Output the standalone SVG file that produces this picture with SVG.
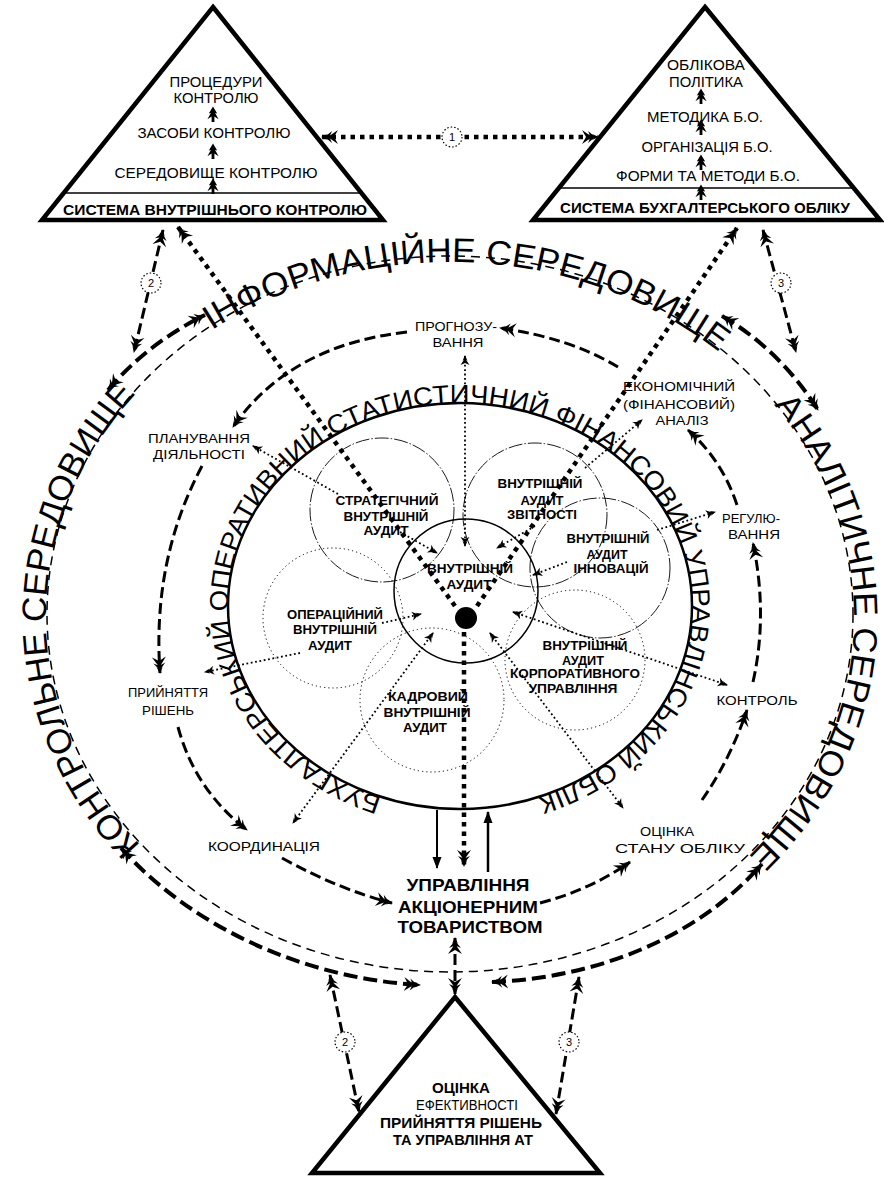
<svg xmlns="http://www.w3.org/2000/svg" width="884" height="1180" viewBox="0 0 884 1180">
<style>
text{font-family:"Liberation Sans",Arial,sans-serif;fill:#000}
.lb{font-size:13px;text-anchor:middle}
.sb{font-size:12.5px;font-weight:bold;text-anchor:middle}
.tr{font-size:15px;text-anchor:middle}
.trb{font-size:15px;font-weight:bold;text-anchor:middle}
.ring{font-size:34px}
.iring{font-size:26px}
.num{font-size:11px;text-anchor:middle}
.tri{fill:#fff;stroke:#000;stroke-width:4.5;stroke-linejoin:miter}
.thin-dash{fill:none;stroke:#000;stroke-width:1.5;stroke-dasharray:9 6}
.thick-dash{fill:none;stroke:#000;stroke-width:4;stroke-dasharray:14 6}
.mid-dash{fill:none;stroke:#000;stroke-width:3;stroke-dasharray:11 5}
.thick-dot{fill:none;stroke:#000;stroke-width:4.5;stroke-dasharray:4.5 5}
.thin-dot{fill:none;stroke:#000;stroke-width:1.8;stroke-dasharray:1.8 2.6}
.solid{fill:none;stroke:#000}
.c-dd{fill:none;stroke:#000;stroke-width:0.9;stroke-dasharray:14 2 1.5 2}
.c-dot{fill:none;stroke:#000;stroke-width:1;stroke-dasharray:1.2 3}
.ncirc{fill:#fff;stroke:#000;stroke-width:1.2;stroke-dasharray:1.5 2}
</style>
<defs>
<marker id="fa" viewBox="-17 -8 18 16" refX="0" refY="0" markerWidth="18" markerHeight="16" markerUnits="userSpaceOnUse" orient="auto-start-reverse"><path d="M1,0 L-6,-3 L-4,-1 L-10,-6 L-8,-1.5 L-16,-7 L-12,0 L-16,7 L-8,1.5 L-10,6 L-4,1 L-6,3 Z" fill="#000" stroke="none"/></marker>
<marker id="sa" viewBox="-10 -5 11 10" refX="0" refY="0" markerWidth="11" markerHeight="10" markerUnits="userSpaceOnUse" orient="auto-start-reverse"><path d="M1,0 L-5,-2.5 L-3.5,-0.8 L-9,-4.5 L-7,0 L-9,4.5 L-3.5,0.8 L-5,2.5 Z" fill="#000" stroke="none"/></marker>
<marker id="ta" viewBox="-12 -5 13 10" refX="0" refY="0" markerWidth="13" markerHeight="10" markerUnits="userSpaceOnUse" orient="auto"><path d="M1,0 L-11,-4.5 L-11,4.5 Z" fill="#000" stroke="none"/></marker>
<path id="oring" d="M 450 972 A 404 355 0 0 1 46 617 A 404 355 0 0 1 450 262 A 404 355 0 0 1 854 617 A 404 355 0 0 1 450 972"/>
<path id="iring" d="M 460 809 A 232 203 0 0 1 228 606 A 232 203 0 0 1 460 403 A 232 203 0 0 1 692 606 A 232 203 0 0 1 460 809"/>
<path id="up" d="M0,-6 L-3,-1 L-1.5,-1.5 L-4,3 L-1,1 L-1,5 L1,5 L1,1 L4,3 L1.5,-1.5 L3,-1 Z"/>
</defs>

<g id="rings">
<ellipse class="thin-dash" cx="450" cy="614" rx="403" ry="358"/>
<ellipse class="solid" stroke-width="2.5" cx="460" cy="606" rx="232" ry="203"/>
<circle class="solid" stroke-width="1.5" cx="466" cy="591" r="72"/>
<circle class="c-dd" cx="382" cy="510" r="72"/>
<circle class="c-dd" cx="535" cy="515" r="72"/>
<circle class="c-dd" cx="600" cy="568" r="70"/>
<circle class="c-dot" cx="575" cy="660" r="70"/>
<circle class="c-dot" cx="432" cy="700" r="72"/>
<circle class="c-dot" cx="333" cy="618" r="70"/>
<circle cx="466" cy="618" r="11" fill="#000"/>
</g>

<g id="ring-text">
<text class="ring" text-anchor="middle"><textPath href="#oring" startOffset="593" textLength="500" lengthAdjust="spacingAndGlyphs">КОНТРОЛЬНЕ СЕРЕДОВИЩЕ</textPath></text>
<text class="ring" text-anchor="middle"><textPath href="#oring" startOffset="1212" textLength="540" lengthAdjust="spacingAndGlyphs">ІНФОРМАЦІЙНЕ СЕРЕДОВИЩЕ</textPath></text>
<text class="ring" text-anchor="middle"><textPath href="#oring" startOffset="1808" textLength="500" lengthAdjust="spacingAndGlyphs">АНАЛІТИЧНЕ СЕРЕДОВИЩЕ</textPath></text>
<text class="iring" text-anchor="middle"><textPath href="#iring" startOffset="684" textLength="1210" lengthAdjust="spacingAndGlyphs">БУХГАЛТЕРСЬКИЙ ОПЕРАТИВНИЙ СТАТИСТИЧНИЙ ФІНАНСОВИЙ УПРАВЛІНСЬКИЙ ОБЛІК</textPath></text>
</g>

<g id="connectors">
<path class="thick-dash" d="M 108 390 Q 148 343 205 315" marker-start="url(#fa)" marker-end="url(#fa)"/>
<path class="thick-dash" d="M 722 316 Q 780 350 818 410" marker-start="url(#fa)" marker-end="url(#fa)"/>
<path class="thick-dash" d="M 121 848 C 190 925 300 978 420 985" marker-start="url(#fa)" marker-end="url(#fa)"/>
<path class="thick-dash" d="M 492 982 C 600 978 700 935 762 864" marker-start="url(#fa)" marker-end="url(#fa)"/>
<path class="thick-dot" d="M 322 137 L 598 137" marker-start="url(#fa)" marker-end="url(#fa)"/>
<path class="mid-dash" d="M 163 230 L 134 352" marker-start="url(#fa)" marker-end="url(#fa)"/>
<path class="mid-dash" d="M 763 230 L 796 352" marker-start="url(#fa)" marker-end="url(#fa)"/>
<path class="mid-dash" d="M 330 975 L 359 1112" marker-start="url(#fa)" marker-end="url(#fa)"/>
<path class="mid-dash" d="M 579 977 L 556 1114" marker-start="url(#fa)" marker-end="url(#fa)"/>
<path class="mid-dash" d="M 455 938 L 455 994" marker-start="url(#fa)" marker-end="url(#fa)"/>
<path class="mid-dash" d="M 407 332 Q 290 345 233 427" marker-end="url(#fa)"/>
<path class="mid-dash" d="M 202 466 Q 152 560 160 673" marker-end="url(#fa)"/>
<path class="mid-dash" d="M 178 727 Q 195 790 247 830" marker-end="url(#fa)"/>
<path class="mid-dash" d="M 282 858 Q 340 890 392 903" marker-end="url(#fa)"/>
<path class="mid-dash" d="M 540 903 Q 590 890 630 862" marker-end="url(#fa)"/>
<path class="mid-dash" d="M 702 800 Q 730 760 747 710" marker-end="url(#fa)"/>
<path class="mid-dash" d="M 753 682 Q 768 615 753 543" marker-end="url(#fa)"/>
<path class="mid-dash" d="M 737 505 Q 722 460 688 430" marker-end="url(#fa)"/>
<path class="mid-dash" d="M 618 367 Q 570 338 500 328" marker-end="url(#fa)"/>
<path class="thick-dot" d="M 455 606 L 178 227" marker-end="url(#fa)"/>
<path class="thick-dot" d="M 477 606 L 737 228" marker-end="url(#fa)"/>
<path class="thick-dot" d="M 464 632 L 464 866" marker-end="url(#fa)"/>
<path class="solid" stroke-width="2" d="M 437 810 L 437 868" marker-end="url(#ta)"/>
<path class="solid" stroke-width="2.5" d="M 488 872 L 488 812" marker-end="url(#ta)"/>
<path class="thin-dot" d="M 465 356 L 465 546" marker-start="url(#sa)" marker-end="url(#sa)"/>
<path class="thin-dot" d="M 338 494 L 253 446" marker-end="url(#sa)"/>
<path class="thin-dot" d="M 400 532 L 437 553" marker-end="url(#sa)"/>
<path class="thin-dot" d="M 300 653 L 205 672" marker-end="url(#sa)"/>
<path class="thin-dot" d="M 382 623 L 421 614" marker-end="url(#sa)"/>
<path class="thin-dot" d="M 433 633 L 293 823" marker-start="url(#sa)" marker-end="url(#sa)"/>
<path class="thin-dot" d="M 490 633 L 623 808" marker-start="url(#sa)" marker-end="url(#sa)"/>
<path class="thin-dot" d="M 513 612 L 727 685" marker-start="url(#sa)" marker-end="url(#sa)"/>
<path class="thin-dot" d="M 567 562 L 533 575" marker-end="url(#sa)"/>
<path class="thin-dot" d="M 657 530 L 715 512" marker-end="url(#sa)"/>
<path class="thin-dot" d="M 535 526 L 497 548" marker-end="url(#sa)"/>
<path class="thin-dot" d="M 585 468 L 642 420" marker-end="url(#sa)"/>
</g>

<g id="num-circles">
<circle class="ncirc" cx="452" cy="137" r="10"/><text class="num" x="452" y="141">1</text>
<circle class="ncirc" cx="151" cy="283" r="10"/><text class="num" x="151" y="287">2</text>
<circle class="ncirc" cx="781" cy="283" r="10"/><text class="num" x="781" y="287">3</text>
<circle class="ncirc" cx="345" cy="1042" r="10"/><text class="num" x="345" y="1046">2</text>
<circle class="ncirc" cx="569" cy="1042" r="10"/><text class="num" x="569" y="1046">3</text>
</g>

<g id="node-internal-control">
<path class="tri" d="M 213 7 L 383 220 L 42 220 Z"/>
<line x1="64" y1="193" x2="361" y2="193" stroke="#000" stroke-width="1.5"/>
<text class="tr" x="216" y="87" textLength="93" lengthAdjust="spacingAndGlyphs">ПРОЦЕДУРИ</text>
<text class="tr" x="216" y="103" textLength="85" lengthAdjust="spacingAndGlyphs">КОНТРОЛЮ</text>
<text class="tr" x="214" y="138" textLength="153" lengthAdjust="spacingAndGlyphs">ЗАСОБИ КОНТРОЛЮ</text>
<text class="tr" x="216" y="178" textLength="203" lengthAdjust="spacingAndGlyphs">СЕРЕДОВИЩЕ КОНТРОЛЮ</text>
<text class="trb" x="215" y="215" textLength="304" lengthAdjust="spacingAndGlyphs">СИСТЕМА ВНУТРІШНЬОГО КОНТРОЛЮ</text>
<use href="#up" transform="translate(213,115) scale(1.4)"/><use href="#up" transform="translate(213,152) scale(1.4)"/><use href="#up" transform="translate(213,187) scale(1.4)"/>
</g>

<g id="node-accounting">
<path class="tri" d="M 705 7 L 880 220 L 533 220 Z"/>
<line x1="559" y1="188" x2="854" y2="188" stroke="#000" stroke-width="1.5"/>
<text class="tr" x="706" y="70" textLength="78" lengthAdjust="spacingAndGlyphs">ОБЛІКОВА</text>
<text class="tr" x="706" y="87" textLength="74" lengthAdjust="spacingAndGlyphs">ПОЛІТИКА</text>
<text class="tr" x="705" y="122" textLength="116" lengthAdjust="spacingAndGlyphs">МЕТОДИКА Б.О.</text>
<text class="tr" x="707" y="152" textLength="131" lengthAdjust="spacingAndGlyphs">ОРГАНІЗАЦІЯ Б.О.</text>
<text class="tr" x="708" y="181" textLength="184" lengthAdjust="spacingAndGlyphs">ФОРМИ ТА МЕТОДИ Б.О.</text>
<text class="trb" x="705" y="213" textLength="290" lengthAdjust="spacingAndGlyphs">СИСТЕМА БУХГАЛТЕРСЬКОГО ОБЛІКУ</text>
<use href="#up" transform="translate(701,97) scale(1.4)"/><use href="#up" transform="translate(701,128) scale(1.4)"/><use href="#up" transform="translate(701,163) scale(1.4)"/><use href="#up" transform="translate(701,193) scale(1.4)"/>
</g>

<g id="node-evaluation">
<path class="tri" d="M 455 997 L 600 1173 L 312 1173 Z"/>
<text class="trb" style="font-size:14px" x="461" y="1093" textLength="58" lengthAdjust="spacingAndGlyphs">ОЦІНКА</text>
<text class="tr" style="font-size:14px" x="467" y="1110" textLength="102" lengthAdjust="spacingAndGlyphs">ЕФЕКТИВНОСТІ</text>
<text class="trb" style="font-size:14px" x="461" y="1128" textLength="162" lengthAdjust="spacingAndGlyphs">ПРИЙНЯТТЯ РІШЕНЬ</text>
<text class="trb" style="font-size:14px" x="463" y="1145" textLength="140" lengthAdjust="spacingAndGlyphs">ТА УПРАВЛІННЯ АТ</text>
</g>

<g id="node-management">
<text class="trb" style="font-size:17px" x="468" y="891" textLength="123" lengthAdjust="spacingAndGlyphs">УПРАВЛІННЯ</text>
<text class="trb" style="font-size:17px" x="468" y="913" textLength="140" lengthAdjust="spacingAndGlyphs">АКЦІОНЕРНИМ</text>
<text class="trb" style="font-size:17px" x="470" y="933" textLength="145" lengthAdjust="spacingAndGlyphs">ТОВАРИСТВОМ</text>
</g>

<g id="node-forecast"><text class="lb" x="456" y="331" textLength="82" lengthAdjust="spacingAndGlyphs">ПРОГНОЗУ-</text><text class="lb" x="458" y="347" textLength="51" lengthAdjust="spacingAndGlyphs">ВАННЯ</text></g>
<g id="node-analysis"><text class="lb" x="679" y="391" textLength="112" lengthAdjust="spacingAndGlyphs">ЕКОНОМІЧНИЙ</text><text class="lb" x="679" y="409" textLength="112" lengthAdjust="spacingAndGlyphs">(ФІНАНСОВИЙ)</text><text class="lb" x="682" y="425" textLength="53" lengthAdjust="spacingAndGlyphs">АНАЛІЗ</text></g>
<g id="node-regulation"><text class="lb" x="751" y="523" textLength="58" lengthAdjust="spacingAndGlyphs">РЕГУЛЮ-</text><text class="lb" x="754" y="539" textLength="52" lengthAdjust="spacingAndGlyphs">ВАННЯ</text></g>
<g id="node-control"><text class="lb" x="757" y="705" textLength="81" lengthAdjust="spacingAndGlyphs">КОНТРОЛЬ</text></g>
<g id="node-account-state"><text class="lb" x="667" y="836" textLength="54" lengthAdjust="spacingAndGlyphs">ОЦІНКА</text><text class="lb" x="680" y="853" textLength="130" lengthAdjust="spacingAndGlyphs">СТАНУ ОБЛІКУ</text></g>
<g id="node-coordination"><text class="lb" x="264" y="851" textLength="112" lengthAdjust="spacingAndGlyphs">КООРДИНАЦІЯ</text></g>
<g id="node-decisions"><text class="lb" x="168" y="697" textLength="80" lengthAdjust="spacingAndGlyphs">ПРИЙНЯТТЯ</text><text class="lb" x="168" y="715" textLength="52" lengthAdjust="spacingAndGlyphs">РІШЕНЬ</text></g>
<g id="node-planning"><text class="lb" x="199" y="443" textLength="102" lengthAdjust="spacingAndGlyphs">ПЛАНУВАННЯ</text><text class="lb" x="199" y="459" textLength="92" lengthAdjust="spacingAndGlyphs">ДІЯЛЬНОСТІ</text></g>

<g id="node-internal-audit"><text class="sb" x="470" y="573" textLength="86" lengthAdjust="spacingAndGlyphs">ВНУТРІШНІЙ</text><text class="sb" x="469" y="589" textLength="45" lengthAdjust="spacingAndGlyphs">АУДИТ</text></g>
<g id="node-strategic"><text class="sb" x="387" y="505" textLength="103" lengthAdjust="spacingAndGlyphs">СТРАТЕГІЧНИЙ</text><text class="sb" x="386" y="521" textLength="85" lengthAdjust="spacingAndGlyphs">ВНУТРІШНІЙ</text><text class="sb" x="386" y="535" textLength="45" lengthAdjust="spacingAndGlyphs">АУДИТ</text></g>
<g id="node-reporting"><text class="sb" x="540" y="488" textLength="85" lengthAdjust="spacingAndGlyphs">ВНУТРІШНІЙ</text><text class="sb" x="542" y="505" textLength="43" lengthAdjust="spacingAndGlyphs">АУДИТ</text><text class="sb" x="542" y="519" textLength="70" lengthAdjust="spacingAndGlyphs">ЗВІТНОСТІ</text></g>
<g id="node-innovation"><text class="sb" x="608" y="543" textLength="83" lengthAdjust="spacingAndGlyphs">ВНУТРІШНІЙ</text><text class="sb" x="607" y="559" textLength="41" lengthAdjust="spacingAndGlyphs">АУДИТ</text><text class="sb" x="611" y="573" textLength="75" lengthAdjust="spacingAndGlyphs">ІННОВАЦІЙ</text></g>
<g id="node-corporate"><text class="sb" x="585" y="650" textLength="85" lengthAdjust="spacingAndGlyphs">ВНУТРІШНІЙ</text><text class="sb" x="583" y="665" textLength="42" lengthAdjust="spacingAndGlyphs">АУДИТ</text><text class="sb" x="575" y="678" textLength="130" lengthAdjust="spacingAndGlyphs">КОРПОРАТИВНОГО</text><text class="sb" x="573" y="693" textLength="89" lengthAdjust="spacingAndGlyphs">УПРАВЛІННЯ</text></g>
<g id="node-personnel"><text class="sb" x="428" y="701" textLength="80" lengthAdjust="spacingAndGlyphs">КАДРОВИЙ</text><text class="sb" x="427" y="717" textLength="87" lengthAdjust="spacingAndGlyphs">ВНУТРІШНІЙ</text><text class="sb" x="425" y="732" textLength="44" lengthAdjust="spacingAndGlyphs">АУДИТ</text></g>
<g id="node-operational"><text class="sb" x="335" y="619" textLength="96" lengthAdjust="spacingAndGlyphs">ОПЕРАЦІЙНИЙ</text><text class="sb" x="335" y="634" textLength="84" lengthAdjust="spacingAndGlyphs">ВНУТРІШНІЙ</text><text class="sb" x="330" y="650" textLength="44" lengthAdjust="spacingAndGlyphs">АУДИТ</text></g>
</svg>
